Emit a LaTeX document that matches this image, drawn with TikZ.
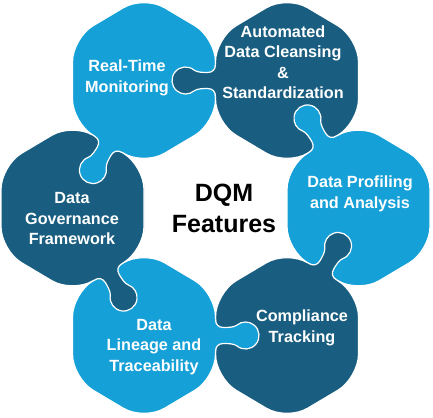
\documentclass[tikz,border=0pt]{standalone}
\usepackage{fontspec}
\setmainfont{Liberation Sans}
\definecolor{lightpc}{RGB}{21,160,215}
\definecolor{darkpc}{RGB}{25,94,128}
\tikzset{
  pics/hexpiece/.style={code={
    \path[fill=#1, draw=white, line width=1.2pt, rounded corners=24pt]
      (71.5,0) -- (71.5,42.5) -- (0,85) -- (-71.5,42.5) -- (-71.5,-42.5)
      -- (0,-85) -- (71.5,-42.5) -- (71.5,0) -- cycle;
  }},
  pics/ptab/.style={code={
    \fill[#1] (-2.5,-16) -- (0,-16) .. controls (0,-11) and (3,-8) .. (8,-8)
      .. controls (12,-8) and (18.64,-8.09) .. (21.32,-10.34)
      arc[start angle=-130, end angle=130, radius=13.5]
      .. controls (18.64,8.09) and (12,8) .. (8,8)
      .. controls (3,8) and (0,11) .. (0,16) -- (-2.5,16) -- cycle;
    \draw[white, line width=1.2pt] (0,-16) .. controls (0,-11) and (3,-8) .. (8,-8)
      .. controls (12,-8) and (18.64,-8.09) .. (21.32,-10.34)
      arc[start angle=-130, end angle=130, radius=13.5]
      .. controls (18.64,8.09) and (12,8) .. (8,8)
      .. controls (3,8) and (0,11) .. (0,16);
  }},
  lbl/.style={text=white, font=\bfseries\fontsize{16.2}{20.5}\selectfont, align=center, inner sep=0pt},
  ctr/.style={text=black, font=\bfseries\fontsize{25}{31}\selectfont, align=center, inner sep=0pt}
}
\begin{document}
\begin{tikzpicture}[x=1pt, y=1pt]
\fill[white] (0,0) rectangle (433,417);
\useasboundingbox (0,0) rectangle (433,417);
% hexagon bodies
\pic at (144,336.5) {hexpiece=lightpc};
\pic at (287,336.5) {hexpiece=darkpc};
\pic at (358.5,209) {hexpiece=lightpc};
\pic at (287,81.5) {hexpiece=darkpc};
\pic at (144,81.5) {hexpiece=lightpc};
\pic at (72.5,209) {hexpiece=darkpc};
% puzzle tabs
\pic[rotate=180] at (215.5,336.5) {ptab=darkpc};
\pic[rotate=120.73] at (322.75,272.75) {ptab=lightpc};
\pic[rotate=59.27] at (322.75,145.25) {ptab=darkpc};
\pic[rotate=0] at (215.5,81.5) {ptab=lightpc};
\pic[rotate=-59.27] at (108.25,145.25) {ptab=darkpc};
\pic[rotate=-120.73] at (108.25,272.75) {ptab=lightpc};
% labels
\node[lbl] (rt) at (127,339) {Real-Time\\Monitoring};
\node[lbl] (auto) at (283,355) {Automated\\Data Cleansing\\\&\\Standardization};
\node[lbl] (prof) at (360,223) {Data Profiling\\and Analysis};
\node[lbl] (comp) at (302,89) {Compliance\\Tracking};
\node[lbl] (lin) at (154,70) {Data\\Lineage and\\Traceability};
\node[lbl] (gov) at (72,198) {Data\\Governance\\Framework};
\node[ctr] (dqm) at (224,208.5) {DQM\\Features};
\end{tikzpicture}
\end{document}
